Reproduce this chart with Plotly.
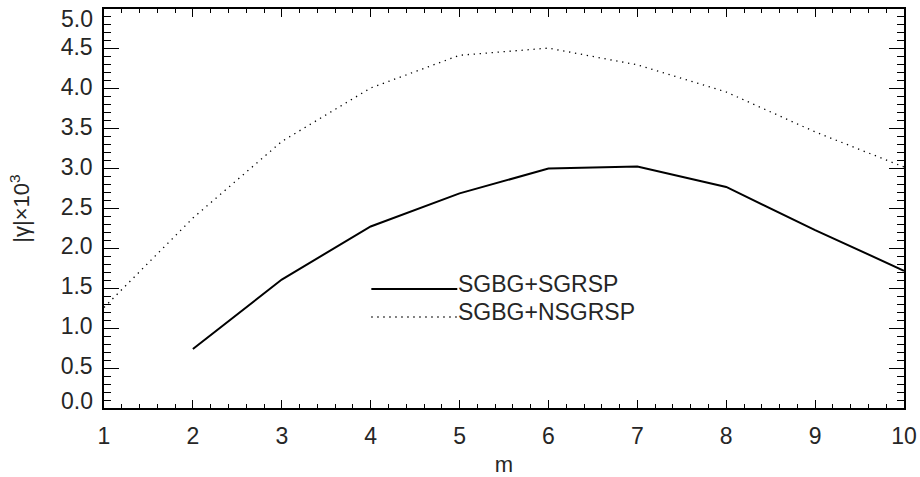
import plotly.graph_objects as go

m_solid = [2, 3, 4, 5, 6, 7, 8, 9, 10]
sgbg_sgrsp = [0.74, 1.61, 2.275, 2.69, 3.00, 3.025, 2.77, 2.23, 1.72]

m_dot = [1, 2, 3, 4, 5, 6, 7, 8, 9, 10]
sgbg_nsgrsp = [1.26, 2.38, 3.34, 4.01, 4.42, 4.51, 4.30, 3.96, 3.46, 3.02]

x_ticks = [1, 2, 3, 4, 5, 6, 7, 8, 9, 10]
y_ticks = [0.0, 0.5, 1.0, 1.5, 2.0, 2.5, 3.0, 3.5, 4.0, 4.5, 5.0]
y_ticklabels = ["%.1f" % v for v in y_ticks]

legend_labels = ["SGBG+SGRSP", "SGBG+NSGRSP"]

FONT = "Liberation Sans"
TXT = "#262626"

fig = go.Figure()
fig.add_trace(go.Scatter(x=m_solid, y=sgbg_sgrsp, mode="lines",
                         line=dict(color="black", width=2), name=legend_labels[0],
                         showlegend=False))
fig.add_trace(go.Scatter(x=m_dot, y=sgbg_nsgrsp, mode="lines",
                         line=dict(color="black", width=1.3, dash="1.3px,4.7px"),
                         name=legend_labels[1], showlegend=False))

H = 477
top, bottom, left, right = 9, 69, 103.5, 16
pw = 920 - left - right
ph = H - top - bottom
def py(yy):
    return (H - bottom - yy) / ph
def px(xx):
    return (xx - left) / pw

leg_y = [289, 317]
fig.add_shape(type="line", xref="paper", yref="paper",
              x0=px(371), x1=px(457), y0=py(leg_y[0]), y1=py(leg_y[0]),
              line=dict(color="black", width=2))
fig.add_shape(type="line", xref="paper", yref="paper",
              x0=px(371), x1=px(457), y0=py(leg_y[1]), y1=py(leg_y[1]),
              line=dict(color="black", width=1.3, dash="1.3px,4.7px"))
for lab, yy in zip(legend_labels, leg_y):
    fig.add_annotation(text=lab, xref="paper", yref="paper",
                       x=px(456), y=py(yy), xanchor="left", yanchor="bottom",
                       yshift=-10, showarrow=False,
                       font=dict(family=FONT, size=23, color=TXT))

# IDL keeps the end labels inside the axis extent: draw those two as text shifted inward
ticktext_inner = [t if 0 < i < len(y_ticks) - 1 else "" for i, t in enumerate(y_ticklabels)]
for val, lab, shift in [(y_ticks[0], y_ticklabels[0], 7), (y_ticks[-1], y_ticklabels[-1], -9.5)]:
    fig.add_annotation(text=lab, xref="paper", yref="y", x=0, y=val, xanchor="right",
                       yanchor="middle", xshift=-9, yshift=shift, showarrow=False,
                       font=dict(family=FONT, size=23, color=TXT))

axis_common = dict(showline=True, linecolor="black", linewidth=1.5, mirror="ticks",
                   ticks="inside", tickcolor="black", showgrid=False, zeroline=False,
                   automargin=False, ticklabeloverflow="allow")

fig.update_xaxes(range=[1, 10], tickvals=x_ticks, ticklen=8, tickwidth=1.2,
                 ticklabelstandoff=7, tickfont=dict(family=FONT, size=23, color=TXT),
                 minor=dict(ticks="inside", dtick=0.2, ticklen=4, tickcolor="black", tickwidth=1),
                 title=dict(text="m", font=dict(family=FONT, size=22, color=TXT), standoff=10),
                 **axis_common)
fig.update_yaxes(range=[0, 5], tickvals=y_ticks, ticktext=ticktext_inner, ticklen=15, tickwidth=1.2,
                 ticklabelstandoff=5, ticklabelshift=-2,
                 tickfont=dict(family=FONT, size=23, color=TXT),
                 minor=dict(ticks="inside", dtick=0.1, ticklen=7, tickcolor="black", tickwidth=1),
                 title=dict(text="|γ|×10<sup>3</sup>", font=dict(family=FONT, size=22, color=TXT), standoff=25),
                 **axis_common)

fig.update_layout(width=920, height=477, margin=dict(l=left, r=right, t=top, b=bottom),
                  plot_bgcolor="white", paper_bgcolor="white", showlegend=False)

fig.write_html("out.html", config={"displayModeBar": False},
               post_script="document.body.style.margin='0px';document.body.style.overflow='hidden';")
